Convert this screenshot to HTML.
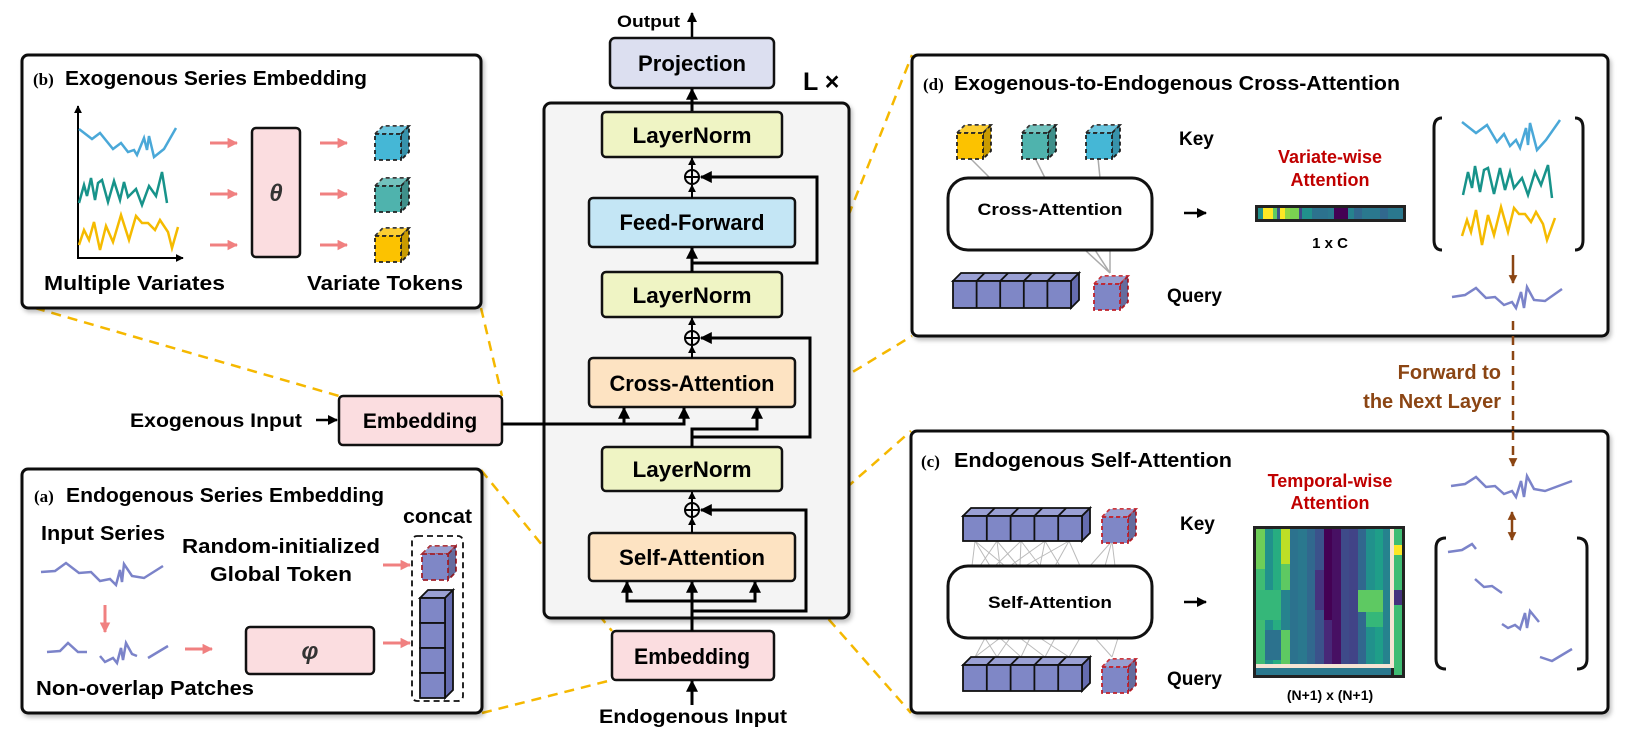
<!DOCTYPE html>
<html><head><meta charset="utf-8"><style>
html,body{margin:0;padding:0;background:#fff;}
svg{display:block;font-family:"Liberation Sans",sans-serif;}
.b{font-weight:bold;}
</style></head><body>
<svg width="1627" height="746" viewBox="0 0 1627 746" xmlns="http://www.w3.org/2000/svg">
<defs>
<marker id="ah" viewBox="0 0 10 10" refX="9" refY="5" markerWidth="4" markerHeight="4" orient="auto-start-reverse"><path d="M0,0 L10,5 L0,10 z" fill="#000"/></marker>
<marker id="ahp" viewBox="0 0 10 10" refX="9" refY="5" markerWidth="3.5" markerHeight="3.5" orient="auto"><path d="M0,0 L10,5 L0,10 z" fill="#f08080"/></marker>
<marker id="ahb" viewBox="0 0 10 10" refX="9" refY="5" markerWidth="3.5" markerHeight="3.5" orient="auto-start-reverse"><path d="M0,0 L10,5 L0,10 z" fill="#8b4513"/></marker>
<symbol id="cube" viewBox="-2 -2 38 38" width="38" height="38" overflow="visible">
<path d="M0,8 L8,0 L34,0 L26,8 Z" fill="currentColor"/>
<path d="M0,8 L8,0 L34,0 L26,8 Z" fill="#fff" opacity="0.2" stroke="none"/>
<path d="M26,8 L34,0 L34,26 L26,34 Z" fill="currentColor"/>
<path d="M26,8 L34,0 L34,26 L26,34 Z" fill="#000" opacity="0.2" stroke="none"/>
<rect x="0" y="8" width="26" height="26" fill="currentColor"/>
</symbol>
<filter id="sh" x="-5%" y="-5%" width="110%" height="115%"><feDropShadow dx="2" dy="3" stdDeviation="2" flood-color="#000" flood-opacity="0.25"/></filter>
</defs>

<!-- orange dashed connectors -->
<g stroke="#f5b800" stroke-width="2.5" stroke-dasharray="10 7" fill="none">
<line x1="35" y1="308" x2="339" y2="396"/>
<line x1="481" y1="308" x2="502" y2="396"/>
<line x1="481" y1="470" x2="612" y2="631"/>
<line x1="482" y1="713" x2="612" y2="680"/>
<line x1="792" y1="358" x2="912" y2="55"/>
<line x1="795" y1="407" x2="912" y2="336"/>
<line x1="795" y1="533" x2="911" y2="431"/>
<line x1="795" y1="581" x2="911" y2="713"/>
</g>

<!-- Panel b -->
<rect x="22" y="55" width="459" height="253" rx="6" fill="#fff" stroke="#111" stroke-width="3" filter="url(#sh)"/>
<text x="33" y="85" font-size="17" class="b" font-family="Liberation Serif">(b)</text>
<text x="65" y="85" font-size="20" class="b" textLength="302" lengthAdjust="spacingAndGlyphs">Exogenous Series Embedding</text>
<line x1="78" y1="258" x2="78" y2="106" stroke="#000" stroke-width="2" marker-end="url(#ah)"/>
<line x1="77" y1="258" x2="183" y2="258" stroke="#000" stroke-width="2" marker-end="url(#ah)"/>
<polyline points="79,129 92,139 100,133 113,149 121,143 128,152 134,150 137,155 144,138 147,150 149,136 154,157 164,149 176,128" fill="none" stroke="#4aa8d8" stroke-width="2.5"/>
<polyline points="79,203 84,185 87,196 91,178 95,200 98,183 102,180 108,202 114,181 120,200 124,182 128,197 136,189 142,205 149,186 156,196 162,172 167,203" fill="none" stroke="#17938a" stroke-width="2.5"/>
<polyline points="79,245 84,230 89,240 94,222 100,250 106,226 113,242 121,215 129,240 136,216 142,223 148,223 155,230 160,220 168,232 172,248 178,227" fill="none" stroke="#f5bb00" stroke-width="2.5"/>
<g stroke="#f08080" stroke-width="3" marker-end="url(#ahp)">
<line x1="210" y1="143" x2="237" y2="143"/><line x1="210" y1="194" x2="237" y2="194"/><line x1="210" y1="245" x2="237" y2="245"/>
<line x1="320" y1="143" x2="347" y2="143"/><line x1="320" y1="194" x2="347" y2="194"/><line x1="320" y1="245" x2="347" y2="245"/>
</g>
<rect x="252" y="128" width="48" height="129" rx="4" fill="#fbdde0" stroke="#111" stroke-width="2.5"/>
<text x="276" y="201" font-size="24" class="b" font-style="italic" text-anchor="middle" fill="#333">θ</text>
<g stroke="#222" stroke-width="1.8" stroke-dasharray="4 3">
<use href="#cube" x="373" y="124" color="#45b7d6"/>
<use href="#cube" x="373" y="176" color="#4fb3ad"/>
<use href="#cube" x="373" y="226" color="#fcc200"/>
</g>
<text x="44" y="290" font-size="20" class="b" textLength="181" lengthAdjust="spacingAndGlyphs">Multiple Variates</text>
<text x="307" y="290" font-size="20" class="b" textLength="156" lengthAdjust="spacingAndGlyphs">Variate Tokens</text>

<!-- Exogenous input -->
<text x="130" y="427" font-size="19" class="b" textLength="172" lengthAdjust="spacingAndGlyphs">Exogenous Input</text>
<line x1="316" y1="420" x2="337" y2="420" stroke="#000" stroke-width="2.5" marker-end="url(#ah)"/>
<rect x="339" y="396" width="163" height="49" rx="4" fill="#fbdde0" stroke="#111" stroke-width="2.5"/>
<text x="420" y="428" font-size="21" class="b" text-anchor="middle">Embedding</text>

<!-- Panel a -->
<rect x="22" y="469" width="460" height="244" rx="6" fill="#fff" stroke="#111" stroke-width="3" filter="url(#sh)"/>
<text x="34" y="502" font-size="17" class="b" font-family="Liberation Serif">(a)</text>
<text x="66" y="502" font-size="20" class="b" textLength="318" lengthAdjust="spacingAndGlyphs">Endogenous Series Embedding</text>
<text x="403" y="523" font-size="20" class="b" textLength="69" lengthAdjust="spacingAndGlyphs">concat</text>
<text x="41" y="540" font-size="20" class="b" textLength="124" lengthAdjust="spacingAndGlyphs">Input Series</text>
<text x="281" y="553" font-size="20" class="b" text-anchor="middle" textLength="198" lengthAdjust="spacingAndGlyphs">Random-initialized</text>
<text x="281" y="581" font-size="20" class="b" text-anchor="middle" textLength="142" lengthAdjust="spacingAndGlyphs">Global Token</text>
<polyline points="41,572 55,571 66,563 79,573 91,572 100,581 110,579 116,585 120,570 122,582 124,564 132,576 144,578 163,566" fill="none" stroke="#7b83c9" stroke-width="2.5"/>
<line x1="105" y1="605" x2="105" y2="632" stroke="#f08080" stroke-width="3" marker-end="url(#ahp)"/>
<polyline points="47,652 60,651 68,643 78,652 87,652" fill="none" stroke="#7b83c9" stroke-width="2.5"/>
<polyline points="100,656 105,662 113,658 117,663 121,648 123,660 126,643 132,654 137,656" fill="none" stroke="#7b83c9" stroke-width="2.5"/>
<polyline points="148,658 168,646" fill="none" stroke="#7b83c9" stroke-width="2.5"/>
<line x1="185" y1="649" x2="212" y2="649" stroke="#f08080" stroke-width="3" marker-end="url(#ahp)"/>
<rect x="246" y="627" width="128" height="47" rx="4" fill="#fbdde0" stroke="#111" stroke-width="2.5"/>
<text x="310" y="659" font-size="24" class="b" font-style="italic" text-anchor="middle" fill="#333">φ</text>
<line x1="383" y1="565" x2="410" y2="565" stroke="#f08080" stroke-width="3" marker-end="url(#ahp)"/>
<line x1="383" y1="643" x2="410" y2="643" stroke="#f08080" stroke-width="3" marker-end="url(#ahp)"/>
<rect x="412" y="536" width="51" height="165" rx="5" fill="none" stroke="#111" stroke-width="1.8" stroke-dasharray="6 4"/>
<use href="#cube" x="420" y="544" color="#7f87c6" stroke="#a0202a" stroke-width="1.8" stroke-dasharray="5 3"/>
<g stroke="#111" stroke-width="1.8">
<path d="M420,598 L428,590 L453,590 L445,598 Z" fill="#9aa0d4"/>
<path d="M445,598 L453,590 L453,690 L445,698 Z" fill="#656cb0"/>
<rect x="420" y="598" width="25" height="25" fill="#7f87c6"/>
<rect x="420" y="623" width="25" height="25" fill="#7f87c6"/>
<rect x="420" y="648" width="25" height="25" fill="#7f87c6"/>
<rect x="420" y="673" width="25" height="25" fill="#7f87c6"/>
</g>
<text x="36" y="695" font-size="20" class="b" textLength="218" lengthAdjust="spacingAndGlyphs">Non-overlap Patches</text>

<!-- Center stack -->
<text x="617" y="27" font-size="17" class="b" textLength="63" lengthAdjust="spacingAndGlyphs">Output</text>
<line x1="692" y1="38" x2="692" y2="13" stroke="#000" stroke-width="2.5" marker-end="url(#ah)"/>
<rect x="610" y="38" width="164" height="50" rx="5" fill="#dcdff0" stroke="#111" stroke-width="2.5"/>
<text x="692" y="71" font-size="22" class="b" text-anchor="middle" textLength="108" lengthAdjust="spacingAndGlyphs">Projection</text>
<text x="803" y="90" font-size="25" class="b">L ×</text>
<rect x="544" y="103" width="305" height="515" rx="7" fill="#f4f4f4" stroke="#111" stroke-width="3" filter="url(#sh)"/>
<line x1="692" y1="112" x2="692" y2="89" stroke="#000" stroke-width="3" marker-end="url(#ah)"/>

<g stroke="#111" stroke-width="2.5">
<rect x="602" y="112" width="180" height="45" rx="4" fill="#eff4c4"/>
<rect x="589" y="198" width="206" height="49" rx="4" fill="#c4e6f5"/>
<rect x="602" y="272" width="180" height="45" rx="4" fill="#eff4c4"/>
<rect x="589" y="358" width="206" height="49" rx="4" fill="#fde3c2"/>
<rect x="602" y="447" width="180" height="44" rx="4" fill="#eff4c4"/>
<rect x="589" y="533" width="206" height="48" rx="4" fill="#fde3c2"/>
<rect x="612" y="631" width="162" height="49" rx="4" fill="#fbdde0"/>
</g>
<g font-size="22" class="b" text-anchor="middle">
<text x="692" y="143" textLength="119" lengthAdjust="spacingAndGlyphs">LayerNorm</text>
<text x="692" y="230" textLength="145" lengthAdjust="spacingAndGlyphs">Feed-Forward</text>
<text x="692" y="303" textLength="119" lengthAdjust="spacingAndGlyphs">LayerNorm</text>
<text x="692" y="391" textLength="165" lengthAdjust="spacingAndGlyphs">Cross-Attention</text>
<text x="692" y="477" textLength="119" lengthAdjust="spacingAndGlyphs">LayerNorm</text>
<text x="692" y="565" textLength="146" lengthAdjust="spacingAndGlyphs">Self-Attention</text>
<text x="692" y="664" textLength="116" lengthAdjust="spacingAndGlyphs">Embedding</text>
</g>
<g stroke="#000" stroke-width="3" fill="none">
<circle cx="692" cy="177" r="7" stroke-width="2"/>
<line x1="685" y1="177" x2="699" y2="177" stroke-width="2"/><line x1="692" y1="170" x2="692" y2="184" stroke-width="2"/>
<line x1="692" y1="170" x2="692" y2="158" stroke-width="2" marker-end="url(#ah)"/>
<line x1="692" y1="198" x2="692" y2="185" stroke-width="2" marker-end="url(#ah)"/>
<line x1="692" y1="272" x2="692" y2="248" marker-end="url(#ah)"/>
<polyline points="692,263 817,263 817,177 701,177" marker-end="url(#ah)"/>
<circle cx="692" cy="338" r="7" stroke-width="2"/>
<line x1="685" y1="338" x2="699" y2="338" stroke-width="2"/><line x1="692" y1="331" x2="692" y2="345" stroke-width="2"/>
<line x1="692" y1="331" x2="692" y2="318" stroke-width="2" marker-end="url(#ah)"/>
<line x1="692" y1="358" x2="692" y2="346" stroke-width="2" marker-end="url(#ah)"/>
<polyline points="692,447 692,437 810,437 810,338 701,338" marker-end="url(#ah)"/>
<polyline points="692,437 692,429 757,429 757,408" marker-end="url(#ah)"/>
<polyline points="502,424 684,424 684,408" marker-end="url(#ah)"/>
<line x1="624" y1="424" x2="624" y2="408" marker-end="url(#ah)"/>
<circle cx="692" cy="510" r="7" stroke-width="2"/>
<line x1="685" y1="510" x2="699" y2="510" stroke-width="2"/><line x1="692" y1="503" x2="692" y2="517" stroke-width="2"/>
<line x1="692" y1="503" x2="692" y2="492" stroke-width="2" marker-end="url(#ah)"/>
<line x1="692" y1="533" x2="692" y2="518" stroke-width="2" marker-end="url(#ah)"/>
<line x1="692" y1="631" x2="692" y2="582" marker-end="url(#ah)"/>
<polyline points="627,582 627,601 755,601 755,582" marker-start="url(#ah)" marker-end="url(#ah)"/>
<polyline points="692,611 806,611 806,510 701,510" marker-end="url(#ah)"/>
<line x1="692" y1="705" x2="692" y2="681" marker-end="url(#ah)"/>
</g>
<text x="599" y="723" font-size="19" class="b" textLength="188" lengthAdjust="spacingAndGlyphs">Endogenous Input</text>

<!-- Panel d -->
<rect x="912" y="55" width="696" height="281" rx="6" fill="#fff" stroke="#111" stroke-width="3" filter="url(#sh)"/>
<text x="923" y="90" font-size="17" class="b" font-family="Liberation Serif">(d)</text>
<text x="954" y="90" font-size="20" class="b" textLength="446" lengthAdjust="spacingAndGlyphs">Exogenous-to-Endogenous Cross-Attention</text>
<g stroke="#aaa" stroke-width="1.5">
<line x1="970" y1="158" x2="990" y2="178"/><line x1="1035" y1="158" x2="1045" y2="178"/><line x1="1098" y1="158" x2="1100" y2="178"/>
<line x1="1085" y1="250" x2="1110" y2="273"/><line x1="1095" y1="250" x2="1110" y2="273"/><line x1="1110" y1="250" x2="1110" y2="273"/>
</g>
<g stroke="#222" stroke-width="1.8" stroke-dasharray="4 3">
<use href="#cube" x="955" y="123" color="#fcc200"/>
<use href="#cube" x="1020" y="123" color="#4fb3ad"/>
<use href="#cube" x="1084" y="123" color="#45b7d6"/>
</g>
<text x="1179" y="145" font-size="19" class="b">Key</text>
<rect x="948" y="178" width="204" height="72" rx="20" fill="#fff" stroke="#111" stroke-width="3"/>
<text x="1050" y="215" font-size="17" class="b" text-anchor="middle" textLength="145" lengthAdjust="spacingAndGlyphs">Cross-Attention</text>
<line x1="1184" y1="213" x2="1206" y2="213" stroke="#000" stroke-width="2.5" marker-end="url(#ah)"/>
<text x="1330" y="163" font-size="18" class="b" fill="#c00000" text-anchor="middle">Variate-wise</text>
<text x="1330" y="186" font-size="18" class="b" fill="#c00000" text-anchor="middle">Attention</text>
<g>
<rect x="1255" y="205" width="151" height="17" fill="#222"/>
<rect x="1258" y="208" width="5" height="11" fill="#21918c"/>
<rect x="1263" y="208" width="10" height="11" fill="#fde725"/>
<rect x="1273" y="208" width="4" height="11" fill="#5ec962"/>
<rect x="1277" y="208" width="3" height="11" fill="#3b528b"/>
<rect x="1280" y="208" width="5" height="11" fill="#fde725"/>
<rect x="1285" y="208" width="5" height="11" fill="#8fd744"/>
<rect x="1290" y="208" width="9" height="11" fill="#7ad151"/>
<rect x="1299" y="208" width="3" height="11" fill="#3e4a89"/>
<rect x="1302" y="208" width="10" height="11" fill="#21918c"/>
<rect x="1312" y="208" width="16" height="11" fill="#2c728e"/>
<rect x="1328" y="208" width="6" height="11" fill="#2a788e"/>
<rect x="1334" y="208" width="14" height="11" fill="#440154"/>
<rect x="1348" y="208" width="6" height="11" fill="#26828e"/>
<rect x="1354" y="208" width="8" height="11" fill="#31688e"/>
<rect x="1362" y="208" width="41" height="11" fill="#2a788e"/>
<rect x="1380" y="208" width="8" height="11" fill="#31688e"/>
</g>
<text x="1330" y="248" font-size="15" class="b" text-anchor="middle">1 x C</text>
<g fill="none" stroke="#111" stroke-width="3">
<path d="M1442,118 Q1434,118 1434,128 L1434,240 Q1434,250 1442,250"/>
<path d="M1575,118 Q1583,118 1583,128 L1583,240 Q1583,250 1575,250"/>
</g>
<polyline points="1462,122 1476,133 1487,125 1497,142 1504,134 1510,146 1516,140 1520,148 1526,128 1528,145 1530,123 1537,150 1546,140 1560,120" fill="none" stroke="#4aa8d8" stroke-width="2.5"/>
<polyline points="1463,195 1468,172 1472,188 1475,166 1480,192 1484,170 1488,168 1494,194 1500,168 1505,190 1510,172 1514,188 1522,178 1528,195 1535,172 1541,185 1548,165 1552,198" fill="none" stroke="#17938a" stroke-width="2.5"/>
<polyline points="1462,236 1467,220 1471,232 1476,210 1482,245 1488,215 1494,235 1501,207 1508,232 1514,208 1519,214 1525,214 1531,222 1536,212 1543,224 1547,240 1555,218" fill="none" stroke="#f5bb00" stroke-width="2.5"/>
<line x1="1513" y1="255" x2="1513" y2="283" stroke="#8b4513" stroke-width="2.5" marker-end="url(#ahb)"/>
<polyline points="1452,297 1465,295 1476,288 1486,298 1495,297 1504,305 1512,302 1516,308 1521,292 1524,308 1527,287 1534,300 1545,301 1562,289" fill="none" stroke="#7b83c9" stroke-width="2.5"/>
<g stroke="#111" stroke-width="1.8">
<path d="M953,281 L961,273 L1079,273 L1071,281 Z" fill="#9aa0d4"/>
<path d="M1071,281 L1079,273 L1079,300 L1071,308 Z" fill="#656cb0"/>
<rect x="953" y="281" width="118" height="27" fill="#7f87c6"/>
<line x1="976.6" y1="281" x2="976.6" y2="308"/><line x1="1000.2" y1="281" x2="1000.2" y2="308"/><line x1="1023.8" y1="281" x2="1023.8" y2="308"/><line x1="1047.4" y1="281" x2="1047.4" y2="308"/>
<line x1="976.6" y1="281" x2="984.6" y2="273"/><line x1="1000.2" y1="281" x2="1008.2" y2="273"/><line x1="1023.8" y1="281" x2="1031.8" y2="273"/><line x1="1047.4" y1="281" x2="1055.4" y2="273"/>
</g>
<use href="#cube" x="1092" y="274" color="#7f87c6" stroke="#c0202a" stroke-width="1.8" stroke-dasharray="4 3"/>
<text x="1167" y="302" font-size="19" class="b">Query</text>

<!-- forward to next layer -->
<line x1="1513" y1="321" x2="1513" y2="464" stroke="#8b4513" stroke-width="2.5" stroke-dasharray="9 6" marker-end="url(#ahb)"/>
<text x="1501" y="379" font-size="20" class="b" fill="#8b4513" text-anchor="end">Forward to</text>
<text x="1501" y="408" font-size="20" class="b" fill="#8b4513" text-anchor="end">the Next Layer</text>

<!-- Panel c -->
<rect x="911" y="431" width="697" height="282" rx="6" fill="#fff" stroke="#111" stroke-width="3" filter="url(#sh)"/>
<line x1="1513" y1="431" x2="1513" y2="466" stroke="#8b4513" stroke-width="2.5" stroke-dasharray="9 6" marker-end="url(#ahb)"/>
<text x="921" y="467" font-size="17" class="b" font-family="Liberation Serif">(c)</text>
<text x="954" y="467" font-size="20" class="b" textLength="278" lengthAdjust="spacingAndGlyphs">Endogenous Self-Attention</text>
<g stroke="#bbb" stroke-width="1">
<path d="M975,541 L972,566 M975,541 L990,566 M975,541 L1005,566 M997,541 L980,566 M997,541 L1000,566 M997,541 L1018,566 M1021,541 L995,566 M1021,541 L1020,566 M1021,541 L1040,566 M1045,541 L1010,566 M1045,541 L1040,566 M1045,541 L1060,566 M1069,541 L1025,566 M1069,541 L1055,566 M1069,541 L1080,566 M1112,541 L1090,566 M1112,541 L1105,566 M1112,541 L1115,566"/>
<path d="M975,657 L985,638 M975,657 L1000,638 M997,657 L985,638 M997,657 L1010,638 M1021,657 L1000,638 M1021,657 L1030,638 M1045,657 L1020,638 M1045,657 L1055,638 M1069,657 L1040,638 M1069,657 L1080,638 M1112,657 L1095,638 M1112,657 L1118,638"/>
</g>
<g stroke="#111" stroke-width="1.8">
<path d="M963,516 L971,508 L1090,508 L1082,516 Z" fill="#9aa0d4"/>
<path d="M1082,516 L1090,508 L1090,533 L1082,541 Z" fill="#656cb0"/>
<rect x="963" y="516" width="119" height="25" fill="#7f87c6"/>
<line x1="986.8" y1="516" x2="986.8" y2="541"/><line x1="1010.6" y1="516" x2="1010.6" y2="541"/><line x1="1034.4" y1="516" x2="1034.4" y2="541"/><line x1="1058.2" y1="516" x2="1058.2" y2="541"/>
<line x1="986.8" y1="516" x2="994.8" y2="508"/><line x1="1010.6" y1="516" x2="1018.6" y2="508"/><line x1="1034.4" y1="516" x2="1042.4" y2="508"/><line x1="1058.2" y1="516" x2="1066.2" y2="508"/>
<path d="M963,665 L971,657 L1090,657 L1082,665 Z" fill="#9aa0d4"/>
<path d="M1082,665 L1090,657 L1090,683 L1082,691 Z" fill="#656cb0"/>
<rect x="963" y="665" width="119" height="26" fill="#7f87c6"/>
<line x1="986.8" y1="665" x2="986.8" y2="691"/><line x1="1010.6" y1="665" x2="1010.6" y2="691"/><line x1="1034.4" y1="665" x2="1034.4" y2="691"/><line x1="1058.2" y1="665" x2="1058.2" y2="691"/>
<line x1="986.8" y1="665" x2="994.8" y2="657"/><line x1="1010.6" y1="665" x2="1018.6" y2="657"/><line x1="1034.4" y1="665" x2="1042.4" y2="657"/><line x1="1058.2" y1="665" x2="1066.2" y2="657"/>
</g>
<use href="#cube" x="1100" y="507" color="#7f87c6" stroke="#c0202a" stroke-width="1.8" stroke-dasharray="4 3"/>
<use href="#cube" x="1100" y="657" color="#7f87c6" stroke="#c0202a" stroke-width="1.8" stroke-dasharray="4 3"/>
<text x="1180" y="530" font-size="19" class="b">Key</text>
<rect x="948" y="566" width="204" height="72" rx="20" fill="#fff" stroke="#111" stroke-width="3"/>
<text x="1050" y="608" font-size="17" class="b" text-anchor="middle" textLength="124" lengthAdjust="spacingAndGlyphs">Self-Attention</text>
<text x="1167" y="685" font-size="19" class="b">Query</text>
<line x1="1184" y1="602" x2="1206" y2="602" stroke="#000" stroke-width="2.5" marker-end="url(#ah)"/>
<text x="1330" y="487" font-size="18" class="b" fill="#c00000" text-anchor="middle">Temporal-wise</text>
<text x="1330" y="509" font-size="18" class="b" fill="#c00000" text-anchor="middle">Attention</text>
<!-- heatmap -->
<g>
<rect x="1253" y="526" width="152" height="152" fill="#222"/>
<rect x="1256" y="529" width="9" height="146" fill="#3fbc73"/>
<rect x="1256" y="529" width="9" height="40" fill="#6ece58"/>
<rect x="1265" y="529" width="8" height="146" fill="#21918c"/>
<rect x="1273" y="529" width="8" height="146" fill="#27ad81"/>
<rect x="1281" y="529" width="9" height="146" fill="#5ec962"/>
<rect x="1281" y="529" width="9" height="35" fill="#bddf26"/>
<rect x="1281" y="590" width="9" height="40" fill="#26828e"/>
<rect x="1290" y="529" width="8" height="146" fill="#2c728e"/>
<rect x="1298" y="529" width="9" height="146" fill="#2a788e"/>
<rect x="1307" y="529" width="8" height="146" fill="#31688e"/>
<rect x="1315" y="529" width="9" height="146" fill="#3b528b"/>
<rect x="1315" y="570" width="9" height="40" fill="#46327e"/>
<rect x="1324" y="529" width="8" height="146" fill="#440154"/>
<rect x="1324" y="620" width="8" height="45" fill="#482878"/>
<rect x="1332" y="529" width="9" height="146" fill="#471063"/>
<rect x="1341" y="529" width="8" height="146" fill="#3e4a89"/>
<rect x="1349" y="529" width="9" height="146" fill="#414487"/>
<rect x="1358" y="529" width="8" height="146" fill="#31688e"/>
<rect x="1366" y="529" width="9" height="146" fill="#21918c"/>
<rect x="1375" y="529" width="8" height="146" fill="#1f9e89"/>
<rect x="1383" y="529" width="8" height="146" fill="#26828e"/>
<rect x="1358" y="590" width="25" height="22" fill="#5ec962"/>
<rect x="1366" y="612" width="17" height="15" fill="#35b779"/>
<rect x="1256" y="590" width="25" height="30" fill="#35b779"/>
<rect x="1265" y="630" width="16" height="30" fill="#2c728e"/>
<rect x="1394" y="529" width="8" height="146" fill="#3fbc73"/>
<rect x="1394" y="545" width="8" height="10" fill="#fde725"/>
<rect x="1394" y="590" width="8" height="15" fill="#46327e"/>
<rect x="1256" y="664" width="135" height="4" fill="#f6e4d4"/>
<rect x="1390" y="529" width="4" height="139" fill="#f6e4d4"/>
<rect x="1256" y="668" width="135" height="7" fill="#2a788e"/>
</g>
<text x="1330" y="700" font-size="14" class="b" text-anchor="middle">(N+1) x (N+1)</text>
<polyline points="1451,486 1465,484 1476,477 1486,487 1495,486 1504,494 1512,491 1516,497 1521,481 1524,497 1527,476 1534,489 1545,491 1572,481" fill="none" stroke="#7b83c9" stroke-width="2.5"/>
<line x1="1512" y1="512" x2="1512" y2="540" stroke="#8b4513" stroke-width="2.5" marker-start="url(#ahb)" marker-end="url(#ahb)"/>
<g fill="none" stroke="#111" stroke-width="3">
<path d="M1446,538 Q1436,538 1436,548 L1436,659 Q1436,669 1446,669"/>
<path d="M1577,538 Q1587,538 1587,548 L1587,659 Q1587,669 1577,669"/>
</g>
<g fill="none" stroke="#7b83c9" stroke-width="2.5">
<polyline points="1448,552 1462,550 1472,544 1476,549"/>
<polyline points="1475,579 1484,587 1492,586 1502,593"/>
<polyline points="1502,624 1508,628 1515,625 1520,629 1525,613 1527,628 1530,611 1539,622"/>
<polyline points="1540,657 1552,661 1572,649"/>
</g>
</svg>
</body></html>
